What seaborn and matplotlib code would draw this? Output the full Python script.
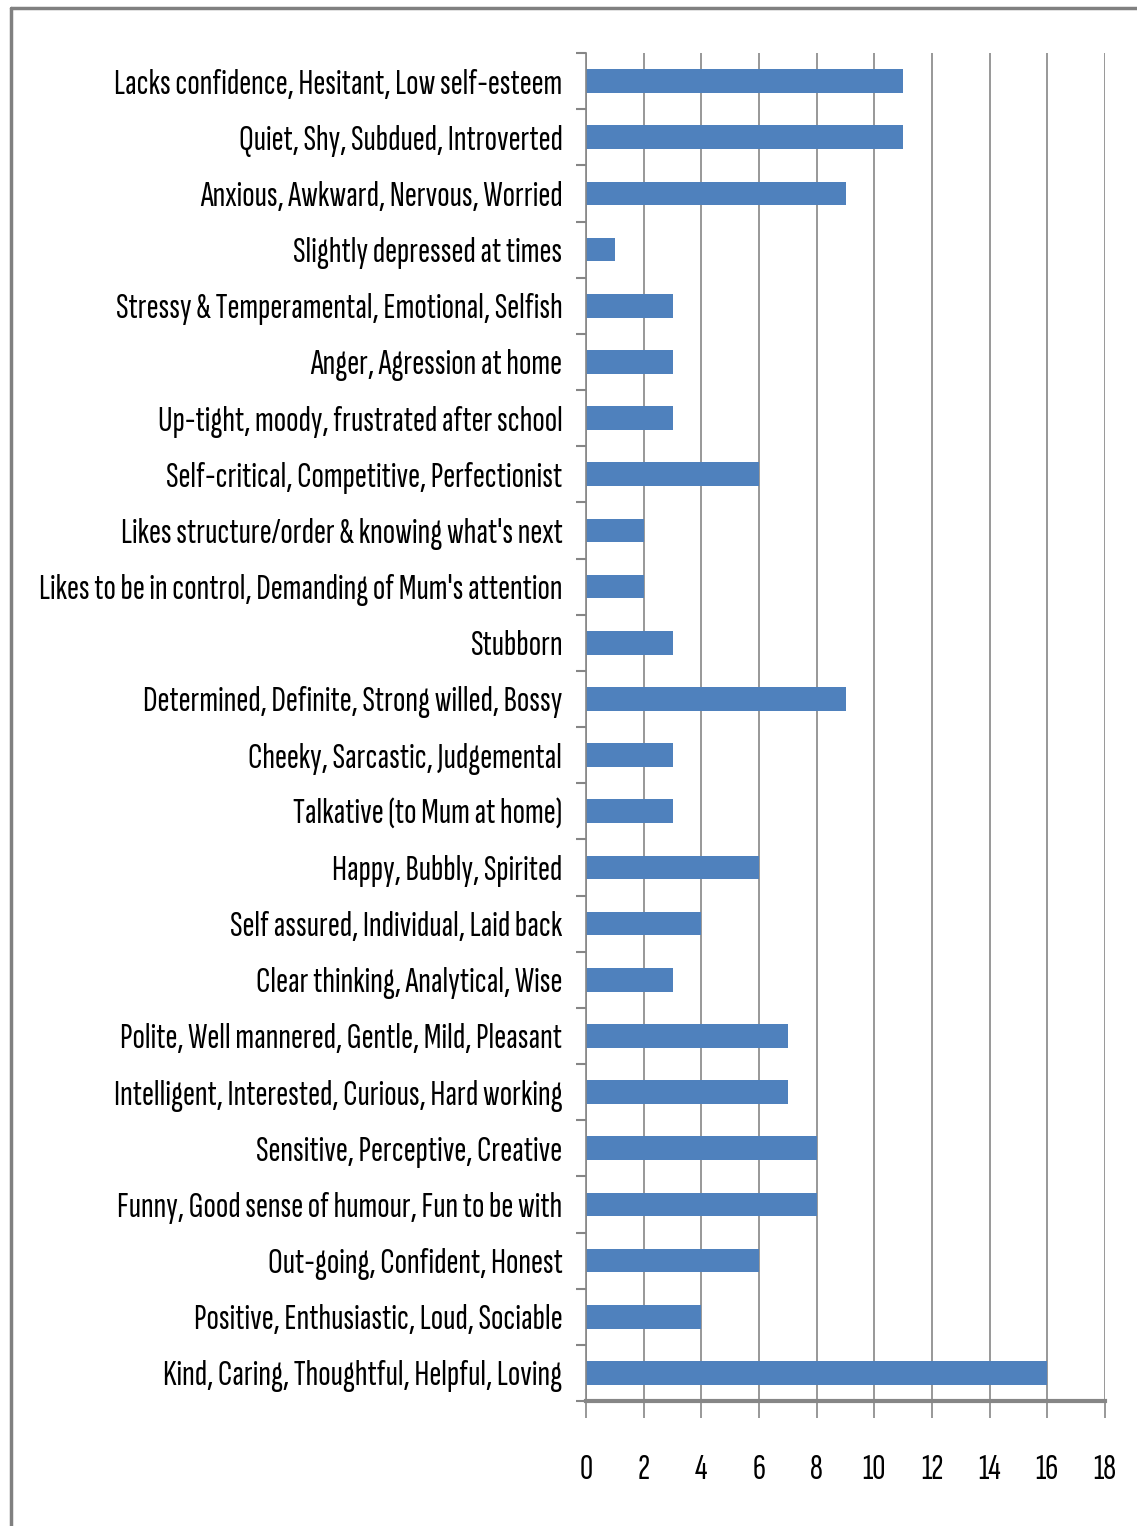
import matplotlib
matplotlib.use("Agg")
import matplotlib.pyplot as plt
from matplotlib.lines import Line2D
from matplotlib.ticker import FixedLocator
import seaborn as sns
import pandas as pd

traits = [
    "Lacks confidence, Hesitant, Low self-esteem",
    "Quiet, Shy, Subdued, Introverted",
    "Anxious, Awkward, Nervous, Worried",
    "Slightly depressed at times",
    "Stressy & Temperamental, Emotional, Selfish",
    "Anger, Agression at home",
    "Up-tight, moody, frustrated after school",
    "Self-critical, Competitive, Perfectionist",
    "Likes structure/order & knowing what's next",
    "Likes to be in control, Demanding of Mum's attention",
    "Stubborn",
    "Determined, Definite, Strong willed, Bossy",
    "Cheeky, Sarcastic, Judgemental",
    "Talkative (to Mum at home)",
    "Happy, Bubbly, Spirited",
    "Self assured, Individual, Laid back",
    "Clear thinking, Analytical, Wise",
    "Polite, Well mannered, Gentle, Mild, Pleasant",
    "Intelligent, Interested, Curious, Hard working",
    "Sensitive, Perceptive, Creative",
    "Funny, Good sense of humour, Fun to be with",
    "Out-going, Confident, Honest",
    "Positive, Enthusiastic, Loud, Sociable",
    "Kind, Caring, Thoughtful, Helpful, Loving",
]
counts = [11, 11, 9, 1, 3, 3, 3, 6, 2, 2, 3, 9, 3, 3, 6, 4, 3, 7, 7, 8, 8, 6, 4, 16]
x_ticks = [0, 2, 4, 6, 8, 10, 12, 14, 16, 18]

df = pd.DataFrame({"trait": traits, "count": counts})

sns.set_theme(style="white")
FONT = ["Sofia Sans Extra Condensed", "DejaVu Sans"]
plt.rcParams["font.family"] = FONT
plt.rcParams["font.weight"] = "light"

W, H = 1137, 1526
fig = plt.figure(figsize=(W / 100, H / 100), dpi=100)

# size the labels so the longest one spans about 524 px
renderer = fig.canvas.get_renderer()
probe = fig.text(0, 0, max(traits, key=len), fontsize=20)
probe_w = probe.get_window_extent(renderer).width
probe.remove()
label_size = 20 * 524 / probe_w

ax = fig.add_axes([586 / W, 1 - 1401 / H, (1105 - 586) / W, (1401 - 53) / H])

grid_col = "#868686"
ax.set_axisbelow(True)
ax.xaxis.grid(True, color=grid_col, linewidth=1.2)

sns.barplot(data=df, y="trait", x="count", orient="h", color="#4F81BD",
            saturation=1, width=0.42, ax=ax, edgecolor="none")

ax.set_xlim(0, 18)
ax.set_ylim(len(traits) - 0.5, -0.5)
ax.set_xticks(x_ticks)
ax.set_xticklabels([str(t) for t in x_ticks], fontsize=label_size)
ax.set_xlabel("")
ax.set_ylabel("")

ax.tick_params(axis="y", which="major", length=0, pad=17, labelsize=label_size, labelcolor="black")
ax.yaxis.set_minor_locator(FixedLocator([i - 0.5 for i in range(len(traits) + 1)]))
ax.tick_params(axis="y", which="minor", left=True, length=7, width=1.5, color=grid_col)
ax.tick_params(axis="x", which="major", bottom=True, direction="out", length=12,
               width=1.2, color=grid_col, pad=26, labelcolor="black")

for side in ("top", "right"):
    ax.spines[side].set_visible(False)
ax.spines["left"].set_color(grid_col)
ax.spines["left"].set_linewidth(1.2)
ax.spines["bottom"].set_color(grid_col)
ax.spines["bottom"].set_linewidth(3)

# outer chart frame (top and left edges)
frame_col = "#808080"
fx = 10.5 / W
fy = 1 - 7.5 / H
fig.add_artist(Line2D([fx, 1.01], [fy, fy], transform=fig.transFigure,
                      color=frame_col, linewidth=2.5))
fig.add_artist(Line2D([fx, fx], [-0.01, fy], transform=fig.transFigure,
                      color=frame_col, linewidth=2.5))

fig.savefig("out.png", dpi=100)
